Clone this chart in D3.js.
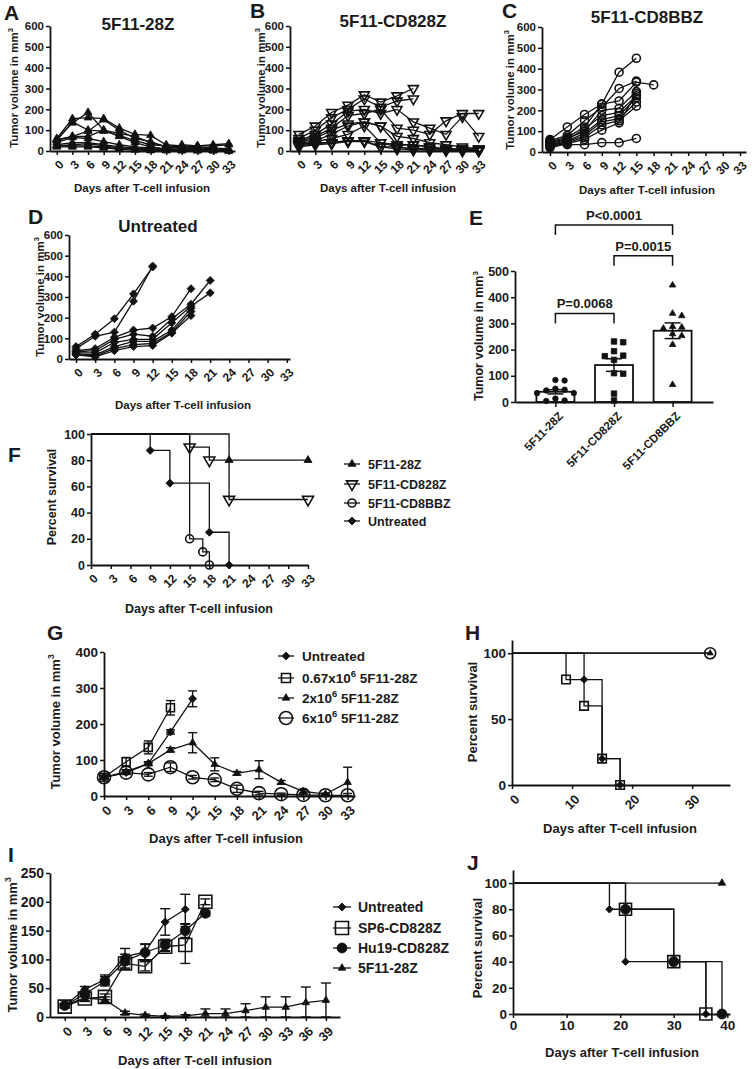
<!DOCTYPE html>
<html><head><meta charset="utf-8">
<script src="https://cdn.jsdelivr.net/npm/d3@7"></script>
<style>
body{margin:0;background:#fff}
svg{display:block}
text{font-family:"Liberation Sans",Arial,Helvetica,sans-serif;font-weight:bold;fill:#1a1a1a}
</style></head><body>
<svg id="c" width="752" height="1069"></svg>
<script>
// ---------------- DATA ----------------
const DAYS33 = [0,3,6,9,12,15,18,21,24,27,30,33];
const DAYS39 = [0,3,6,9,12,15,18,21,24,27,30,33,36,39];
const Y600 = [0,100,200,300,400,500,600];

const A_mice = [
 [55,135,185,100,70,40,20,10,5,5,3,2],
 [60,155,160,155,110,80,75,30,25,20,15,10],
 [50,140,100,95,75,50,30,25,20,15,10,5],
 [55,70,95,150,100,60,45,20,15,10,5,3],
 [50,70,70,100,85,70,40,20,15,25,25,30],
 [40,65,60,45,30,20,15,10,10,8,5,2],
 [30,40,40,30,20,15,10,5,5,3,3,2],
 [25,30,35,25,15,10,5,3,2,2,2,1],
 [25,25,25,20,10,10,5,5,30,25,30,35],
 [20,20,20,15,8,5,2,2,2,2,2,2]
];
const B_mice = [
 [80,120,185,220,270,235,265,300],
 [60,100,160,200,250,210,240,250],
 [50,80,130,190,200,180,200,140,110,80,165,70],
 [45,70,110,170,180,200,110,100,80,145,180,180],
 [40,60,100,130,140,120,70,60,40,30,20,10],
 [35,50,80,120,140,120,30,30,20,10,10,10],
 [30,45,60,80,120,40,20,10,15,10,10,5],
 [30,40,40,50,50,40,30,30,20,5,5,2],
 [25,35,40,50,50,20,20,10,5,5,2,2],
 [20,30,35,45,45,20,10,5,5,3,2,2]
];
const C_mice = [
 [60,120,180,230,383,450],
 [55,80,150,215,305,340],
 [50,70,120,230,245,335,322],
 [45,65,100,200,210,290],
 [40,60,110,175,190,270],
 [35,55,90,155,175,260],
 [30,50,80,145,160,240],
 [25,45,70,130,150,220],
 [20,40,60,105,140,280],
 [40,35,35,45,45,65]
];
const D_mice = [
 [60,120,195,315,445],
 [50,110,130,280,450],
 [40,50,105,140,150,205,340],
 [35,40,95,120,110,195,265,380],
 [30,30,80,95,95,175,255,320],
 [25,20,60,85,85,140,245],
 [20,15,50,70,75,130,230],
 [20,10,40,60,65,125,210]
];

const E_cats = ['5F11-28Z','5F11-CD828Z','5F11-CD8BBZ'];
const E_means = [39,141,272];
const E_sems = [8,24,30];
const E_pts28Z = [84,82,51,47,44,34,34,13,6,4];
const E_ptsCD828Z = [231,228,194,177,175,161,110,108,32,6];
const E_ptsCD8BBZ = [446,338,329,288,285,281,260,253,219,66];
const E_tests = [['5F11-28Z','5F11-CD8BBZ','P<0.0001'],['5F11-CD828Z','5F11-CD8BBZ','P=0.0015'],['5F11-28Z','5F11-CD828Z','P=0.0068']];

const F_names = ['5F11-28Z','5F11-CD828Z','5F11-CD8BBZ','Untreated'];
const F_t28Z = [0,21,33],        F_s28Z = [100,80,80];
const F_tCD828Z = [0,15,18,21,33], F_sCD828Z = [100,90,80,50,50];
const F_tCD8BBZ = [0,15,17,18],  F_sCD8BBZ = [100,20,10,0];
const F_tUnt = [0,9,12,18,21],   F_sUnt = [100,87.5,62.5,25,0];

const G_names = [['Untreated'],['0.67x10','6',' 5F11-28Z'],['2x10','6',' 5F11-28Z'],['6x10','6',' 5F11-28Z']];
const G_unt = [52,65,90,178,270],   G_untErr = [5,5,5,6,22];
const G_067 = [52,95,135,245],      G_067Err = [5,12,18,20];
const G_2 = [52,68,90,128,148,88,63,73,38,13,5,38], G_2Err = [5,5,5,6,28,18,5,25,5,5,3,42];
const G_6 = [52,65,60,80,52,45,20,8,5,3,2,2],      G_6Err = [5,5,5,12,5,5,10,5,3,3,2,5];

const H_tUnt = [0,12,15,18], H_sUnt = [100,80,20,0];
const H_t067 = [0,9,12,15,18], H_s067 = [100,80,60,20,0];
const H_t2 = [0,33], H_s2 = [100,100];
const H_t6 = [0,33], H_s6 = [100,100];

const I_names = ['Untreated','SP6-CD828Z','Hu19-CD828Z','5F11-28Z'];
const I_unt = [20,48,65,105,113,165,187],          I_untErr = [3,5,8,14,14,23,26];
const I_sp6 = [18,32,35,93,88,122,125,200],        I_sp6Err = [3,5,5,10,8,8,32,5];
const I_hu19 = [20,40,62,97,112,125,150,180],      I_hu19Err = [3,5,8,12,14,10,12,5];
const I_28Z = [20,33,30,7,3,1,2,6,6,11,17,17,25,29], I_28ZErr = [3,5,5,3,2,1,2,8,8,12,18,18,27,30];

const J_tUnt = [0,18,21,36], J_sUnt = [100,80,40,0];
const J_tSP6 = [0,21,30,36], J_sSP6 = [100,80,40,0];
const J_tHu19 = [0,21,30,39], J_sHu19 = [100,80,40,0];
const J_t28Z = [0,39], J_s28Z = [100,100];

// ---------------- HELPERS ----------------
const svg = d3.select('#c');
const INK = '#111';

function mark(g, type, cx, cy, w, open) {
  let t, size, rot = 0;
  if (type === 'tri' || type === 'itri') { t = d3.symbolTriangle; size = w*w*Math.sqrt(3)/4; if (type==='itri') rot = 180; }
  else if (type === 'circ') { t = d3.symbolCircle; size = Math.PI*w*w/4; }
  else if (type === 'sq') { t = d3.symbolSquare; size = w*w; }
  else { t = d3.symbolSquare; size = w*w/2; rot = 45; }
  g.append('path').attr('d', d3.symbol(t, size)())
    .attr('transform', `translate(${cx},${cy}) rotate(${rot})`)
    .attr('fill', open ? 'none' : INK)
    .attr('stroke', INK).attr('stroke-width', open ? 1.6 : 0.8);
}
function styleAxis(a, fs) {
  a.attr('font-family', null).attr('font-size', null);
  a.select('.domain').attr('stroke', INK).attr('stroke-width', 1.8);
  a.selectAll('.tick line').attr('stroke', INK).attr('stroke-width', 1.5);
  a.selectAll('.tick text').style('font-size', fs + 'px').attr('fill', '#1a1a1a');
}
function yAxis(g, x0, y, ticks, fs) {
  const a = g.append('g').attr('transform', `translate(${x0},0)`)
    .call(d3.axisLeft(y).tickValues(ticks).tickSize(4).tickSizeOuter(0).tickPadding(2));
  styleAxis(a, fs); return a;
}
function xAxis(g, x, y0, ticks, fs, rot) {
  const a = g.append('g').attr('transform', `translate(0,${y0})`)
    .call(d3.axisBottom(x).tickValues(ticks).tickSize(4).tickSizeOuter(0).tickPadding(2));
  styleAxis(a, fs);
  if (rot) a.selectAll('.tick text').attr('x', 0).attr('y', 0).attr('dy', '0.35em')
    .attr('transform', `translate(${fs*0.35},${4 + fs*0.6}) rotate(-45)`).style('text-anchor', 'end');
  return a;
}
function letter(x, y, s) { svg.append('text').attr('x', x).attr('y', y).style('font-size', '21px').text(s); }
function title(x, y, s, fs) { svg.append('text').attr('x', x).attr('y', y).attr('text-anchor', 'middle').style('font-size', fs + 'px').text(s); }
function yTitle(cx, cy, fs, main, sup) {
  const t = svg.append('text').attr('transform', `translate(${cx},${cy}) rotate(-90)`)
    .attr('text-anchor', 'middle').attr('dy', '0.35em').style('font-size', fs + 'px');
  t.append('tspan').text(main);
  if (sup) t.append('tspan').attr('dy', -fs*0.45).style('font-size', (fs*0.65) + 'px').text(sup);
}
function lineSeries(g, x, y, days, vals, type, w, open) {
  const pts = vals.map((v, i) => [days[i], v]);
  g.append('path').datum(pts).attr('d', d3.line().x(p => x(p[0])).y(p => y(p[1])))
    .attr('fill', 'none').attr('stroke', INK).attr('stroke-width', 1.3);
  pts.forEach(p => mark(g, type, x(p[0]), y(p[1]), w, open));
}
function errBars(g, x, y, days, vals, errs, cap) {
  vals.forEach((v, i) => {
    const xx = x(days[i]);
    const lo = y(Math.max(0, v - errs[i])), hi = y(v + errs[i]);
    g.append('line').attr('x1', xx).attr('x2', xx).attr('y1', lo).attr('y2', hi).attr('stroke', INK).attr('stroke-width', 1.4);
    [lo, hi].forEach(yy => g.append('line').attr('x1', xx - cap/2).attr('x2', xx + cap/2).attr('y1', yy).attr('y2', yy).attr('stroke', INK).attr('stroke-width', 1.4));
  });
}
function survival(g, x, y, ts, ss, type, w, open) {
  const pts = ts.map((t, i) => [t, ss[i]]);
  g.append('path').datum(pts).attr('d', d3.line().curve(d3.curveStepAfter).x(p => x(p[0])).y(p => y(p[1])))
    .attr('fill', 'none').attr('stroke', INK).attr('stroke-width', 1.3);
  pts.slice(1).forEach(p => mark(g, type, x(p[0]), y(p[1]), w, open));
}
function legend(g, x, ys, items, fs, half, tx) {
  items.forEach((it, i) => {
    g.append('line').attr('x1', x - half).attr('x2', x + half).attr('y1', ys[i]).attr('y2', ys[i]).attr('stroke', INK).attr('stroke-width', 1.3);
    mark(g, it.type, x, ys[i], it.w, it.open);
    const t = g.append('text').attr('x', tx).attr('y', ys[i]).attr('dy', '0.36em').style('font-size', fs + 'px');
    const parts = Array.isArray(it.label) ? it.label : [it.label];
    t.append('tspan').text(parts[0]);
    if (parts.length > 1) {
      t.append('tspan').attr('dy', -fs*0.4).style('font-size', (fs*0.7) + 'px').text(parts[1]);
      t.append('tspan').attr('dy', fs*0.4).text(parts[2]);
    }
  });
}

// ---------------- PANEL A ----------------
{
  const g = svg.append('g');
  const x = d3.scaleLinear().domain([-1.3, 34.2]).range([50, 235]);
  const y = d3.scaleLinear().domain([0, 600]).range([151, 26]);
  A_mice.forEach(m => lineSeries(g, x, y, DAYS33, m, 'tri', 8, false));
  yAxis(g, 50, y, Y600, 11.5); xAxis(g, x, 151, DAYS33, 12, true);
  letter(4, 20, 'A'); title(138, 30, '5F11-28Z', 17);
  yTitle(14, 88, 11.5, 'Tumor volume in mm', '3');
  title(142, 192, 'Days after T-cell infusion', 11.5);
}
// ---------------- PANEL B ----------------
{
  const g = svg.append('g');
  const x = d3.scaleLinear().domain([-1.65, 33.6]).range([290, 482]);
  const y = d3.scaleLinear().domain([0, 600]).range([151, 26]);
  B_mice.forEach(m => lineSeries(g, x, y, DAYS33, m, 'itri', 10, true));
  yAxis(g, 290, y, Y600, 11.5); xAxis(g, x, 151, DAYS33, 12, true);
  letter(250, 18, 'B'); title(393, 27, '5F11-CD828Z', 17);
  yTitle(261, 88, 11.5, 'Tumor volume in mm', '3');
  title(388, 192, 'Days after T-cell infusion', 11.5);
}
// ---------------- PANEL C ----------------
{
  const g = svg.append('g');
  const x = d3.scaleLinear().domain([-1.39, 34.04]).range([542, 746]);
  const y = d3.scaleLinear().domain([0, 600]).range([152, 27]);
  C_mice.forEach(m => lineSeries(g, x, y, DAYS33, m, 'circ', 8, true));
  yAxis(g, 542, y, Y600, 11.5); xAxis(g, x, 152, DAYS33, 12, true);
  letter(502, 18, 'C'); title(647, 23, '5F11-CD8BBZ', 17);
  yTitle(510, 90, 11.5, 'Tumor volume in mm', '3');
  title(647, 194, 'Days after T-cell infusion', 11.5);
}
// ---------------- PANEL D ----------------
{
  const g = svg.append('g');
  const x = d3.scaleLinear().domain([-1.1, 33.5]).range([69, 290]);
  const y = d3.scaleLinear().domain([0, 600]).range([359, 235]);
  D_mice.forEach(m => lineSeries(g, x, y, DAYS33, m, 'dia', 8, false));
  yAxis(g, 69, y, Y600, 11.5); xAxis(g, x, 359, DAYS33, 12, true);
  letter(28, 224, 'D'); title(158, 232, 'Untreated', 17);
  yTitle(40, 297, 11.5, 'Tumor volume in mm', '3');
  title(183, 409, 'Days after T-cell infusion', 11.5);
}
// ---------------- PANEL E ----------------
{
  const g = svg.append('g');
  const x = d3.scalePoint().domain(E_cats).range([515, 713]).padding(0.69);
  const y = d3.scaleLinear().domain([0, 500]).range([402, 271]);
  const bw = 38;
  E_cats.forEach((c, i) => {
    g.append('rect').attr('x', x(c) - bw/2).attr('y', y(E_means[i])).attr('width', bw).attr('height', y(0) - y(E_means[i]))
      .attr('fill', '#fff').attr('stroke', INK).attr('stroke-width', 1.8);
  });
  const groups = [[E_pts28Z, 'circ', 5.5], [E_ptsCD828Z, 'sq', 5.5], [E_ptsCD8BBZ, 'tri', 6.5]];
  groups.forEach(([vals, type, w], gi) => {
    const cx = x(E_cats[gi]);
    const placed = [];
    vals.forEach(v => {
      const py = y(v);
      const cands = [0]; for (let k = 1; k < 8; k++) cands.push(k*4.6, -k*4.6);
      for (const dx of cands) {
        if (placed.every(p => Math.hypot(p[0] - dx, (p[1] - py)*1.4) >= 9)) { placed.push([dx, py]); break; }
      }
    });
    placed.forEach(p => mark(g, type, cx + p[0], p[1], w, false));
    const m = E_means[gi], s = E_sems[gi];
    g.append('line').attr('x1', cx).attr('x2', cx).attr('y1', y(m - s)).attr('y2', y(m + s)).attr('stroke', INK).attr('stroke-width', 1.5);
    [m - s, m + s].forEach(vv => g.append('line').attr('x1', cx - 8).attr('x2', cx + 8).attr('y1', y(vv)).attr('y2', y(vv)).attr('stroke', INK).attr('stroke-width', 1.5));
  });
  yAxis(g, 515, y, [0,100,200,300,400,500], 12.5);
  const xa = g.append('g').attr('transform', `translate(0,402)`).call(d3.axisBottom(x).tickSize(5).tickSizeOuter(0).tickPadding(2));
  styleAxis(xa, 11.5);
  xa.selectAll('.tick text').attr('x', 0).attr('y', 0).attr('dy', '0.35em')
    .attr('transform', 'translate(5,12) rotate(-45)').style('text-anchor', 'end');
  const levels = [676, 558, 338];
  E_tests.forEach((tst, i) => {
    const x1 = x(tst[0]), x2 = x(tst[1]), yy = y(levels[i]);
    g.append('path').attr('d', `M${x1},${yy + 10}V${yy}H${x2}V${yy + 10}`).attr('fill', 'none').attr('stroke', INK).attr('stroke-width', 1.5);
    g.append('text').attr('x', (x1 + x2)/2).attr('y', yy - 5).attr('text-anchor', 'middle').style('font-size', '13px').text(tst[2]);
  });
  letter(469, 225, 'E');
  yTitle(479, 336, 12.5, 'Tumor volume in mm', '3');
}
// ---------------- PANEL F ----------------
{
  const g = svg.append('g');
  const x = d3.scaleLinear().domain([0, 33]).range([91, 308]);
  const y = d3.scaleLinear().domain([0, 100]).range([565, 434]);
  survival(g, x, y, F_t28Z, F_s28Z, 'tri', 8, false);
  survival(g, x, y, F_tCD828Z, F_sCD828Z, 'itri', 11, true);
  survival(g, x, y, F_tCD8BBZ, F_sCD8BBZ, 'circ', 8, true);
  survival(g, x, y, F_tUnt, F_sUnt, 'dia', 8, false);
  yAxis(g, 91, y, [0,20,40,60,80,100], 12.5); xAxis(g, x, 565, DAYS33, 12, true);
  letter(8, 462, 'F');
  yTitle(52, 497, 12.5, 'Percent survival');
  title(199, 613, 'Days after T-cell infusion', 12.5);
  legend(g, 352, [464, 484, 503, 521], [
    {label: F_names[0], type: 'tri', w: 8}, {label: F_names[1], type: 'itri', w: 11, open: true},
    {label: F_names[2], type: 'circ', w: 8, open: true}, {label: F_names[3], type: 'dia', w: 8}], 12.5, 8, 368);
}
// ---------------- PANEL G ----------------
{
  const g = svg.append('g');
  const x = d3.scaleLinear().domain([0, 34]).range([104, 355]);
  const y = d3.scaleLinear().domain([0, 400]).range([796, 652]);
  errBars(g, x, y, DAYS33, G_unt, G_untErr, 9);
  errBars(g, x, y, DAYS33, G_067, G_067Err, 9);
  errBars(g, x, y, DAYS33, G_2, G_2Err, 9);
  errBars(g, x, y, DAYS33, G_6, G_6Err, 9);
  lineSeries(g, x, y, DAYS33, G_6, 'circ', 13, true);
  lineSeries(g, x, y, DAYS33, G_2, 'tri', 7.5, false);
  lineSeries(g, x, y, DAYS33, G_067, 'sq', 8, true);
  lineSeries(g, x, y, DAYS33, G_unt, 'dia', 8, false);
  yAxis(g, 104, y, [0,100,200,300,400], 13.5); xAxis(g, x, 796, DAYS33, 13, true);
  letter(47, 640, 'G');
  yTitle(55, 722, 13, 'Tumor volume in mm', '3');
  title(226, 843, 'Days after T-cell infusion', 13);
  legend(g, 286, [656, 678, 698, 718], [
    {label: G_names[0], type: 'dia', w: 8}, {label: G_names[1], type: 'sq', w: 9, open: true},
    {label: G_names[2], type: 'tri', w: 7.5}, {label: G_names[3], type: 'circ', w: 13, open: true}], 13.5, 8, 302);
}
// ---------------- PANEL H ----------------
{
  const g = svg.append('g');
  const x = d3.scaleLinear().domain([0, 36.3]).range([512, 730]);
  const y = d3.scaleLinear().domain([0, 110]).range([785, 640]);
  survival(g, x, y, H_t2, H_s2, 'tri', 6, false);
  survival(g, x, y, H_t6, H_s6, 'circ', 11, true);
  survival(g, x, y, H_t067, H_s067, 'sq', 8.5, true);
  survival(g, x, y, H_tUnt, H_sUnt, 'dia', 7.5, false);
  yAxis(g, 512, y, [0,50,100], 13.5); xAxis(g, x, 785, [0,10,20,30], 13, true);
  letter(465, 640, 'H');
  yTitle(472, 712, 13, 'Percent survival');
  title(620, 833, 'Days after T-cell infusion', 13);
}
// ---------------- PANEL I ----------------
{
  const g = svg.append('g');
  const x = d3.scaleLinear().domain([-2.2, 41.1]).range([50, 340]);
  const y = d3.scaleLinear().domain([0, 250]).range([1017, 873]);
  errBars(g, x, y, DAYS39, I_unt, I_untErr, 10);
  errBars(g, x, y, DAYS39, I_sp6, I_sp6Err, 10);
  errBars(g, x, y, DAYS39, I_hu19, I_hu19Err, 10);
  errBars(g, x, y, DAYS39, I_28Z, I_28ZErr, 10);
  lineSeries(g, x, y, DAYS39, I_28Z, 'tri', 7.5, false);
  lineSeries(g, x, y, DAYS39, I_hu19, 'circ', 10, false);
  lineSeries(g, x, y, DAYS39, I_sp6, 'sq', 13, true);
  lineSeries(g, x, y, DAYS39, I_unt, 'dia', 8, false);
  yAxis(g, 50, y, [0,50,100,150,200,250], 14); xAxis(g, x, 1017, DAYS39, 13, true);
  letter(8, 862, 'I');
  yTitle(12, 945, 13, 'Tumor volume in mm', '3');
  title(195, 1065, 'Days after T-cell infusion', 13);
  legend(g, 342, [907, 928, 948, 968], [
    {label: I_names[0], type: 'dia', w: 8}, {label: I_names[1], type: 'sq', w: 13, open: true},
    {label: I_names[2], type: 'circ', w: 10}, {label: I_names[3], type: 'tri', w: 7.5}], 14, 9, 358);
}
// ---------------- PANEL J ----------------
{
  const g = svg.append('g');
  const x = d3.scaleLinear().domain([0, 40.5]).range([513, 730]);
  const y = d3.scaleLinear().domain([0, 110]).range([1014, 870]);
  survival(g, x, y, J_t28Z, J_s28Z, 'tri', 7.5, false);
  survival(g, x, y, J_tSP6, J_sSP6, 'sq', 12, true);
  survival(g, x, y, J_tHu19, J_sHu19, 'circ', 10, false);
  survival(g, x, y, J_tUnt, J_sUnt, 'dia', 7.5, false);
  yAxis(g, 513, y, [0,20,40,60,80,100], 13.5);
  xAxis(g, x, 1014, [0,10,20,30,40], 13.5, false);
  letter(467, 870, 'J');
  yTitle(477, 948, 13, 'Percent survival');
  title(622, 1057, 'Days after T-cell infusion', 13);
}
</script>
</body></html>
